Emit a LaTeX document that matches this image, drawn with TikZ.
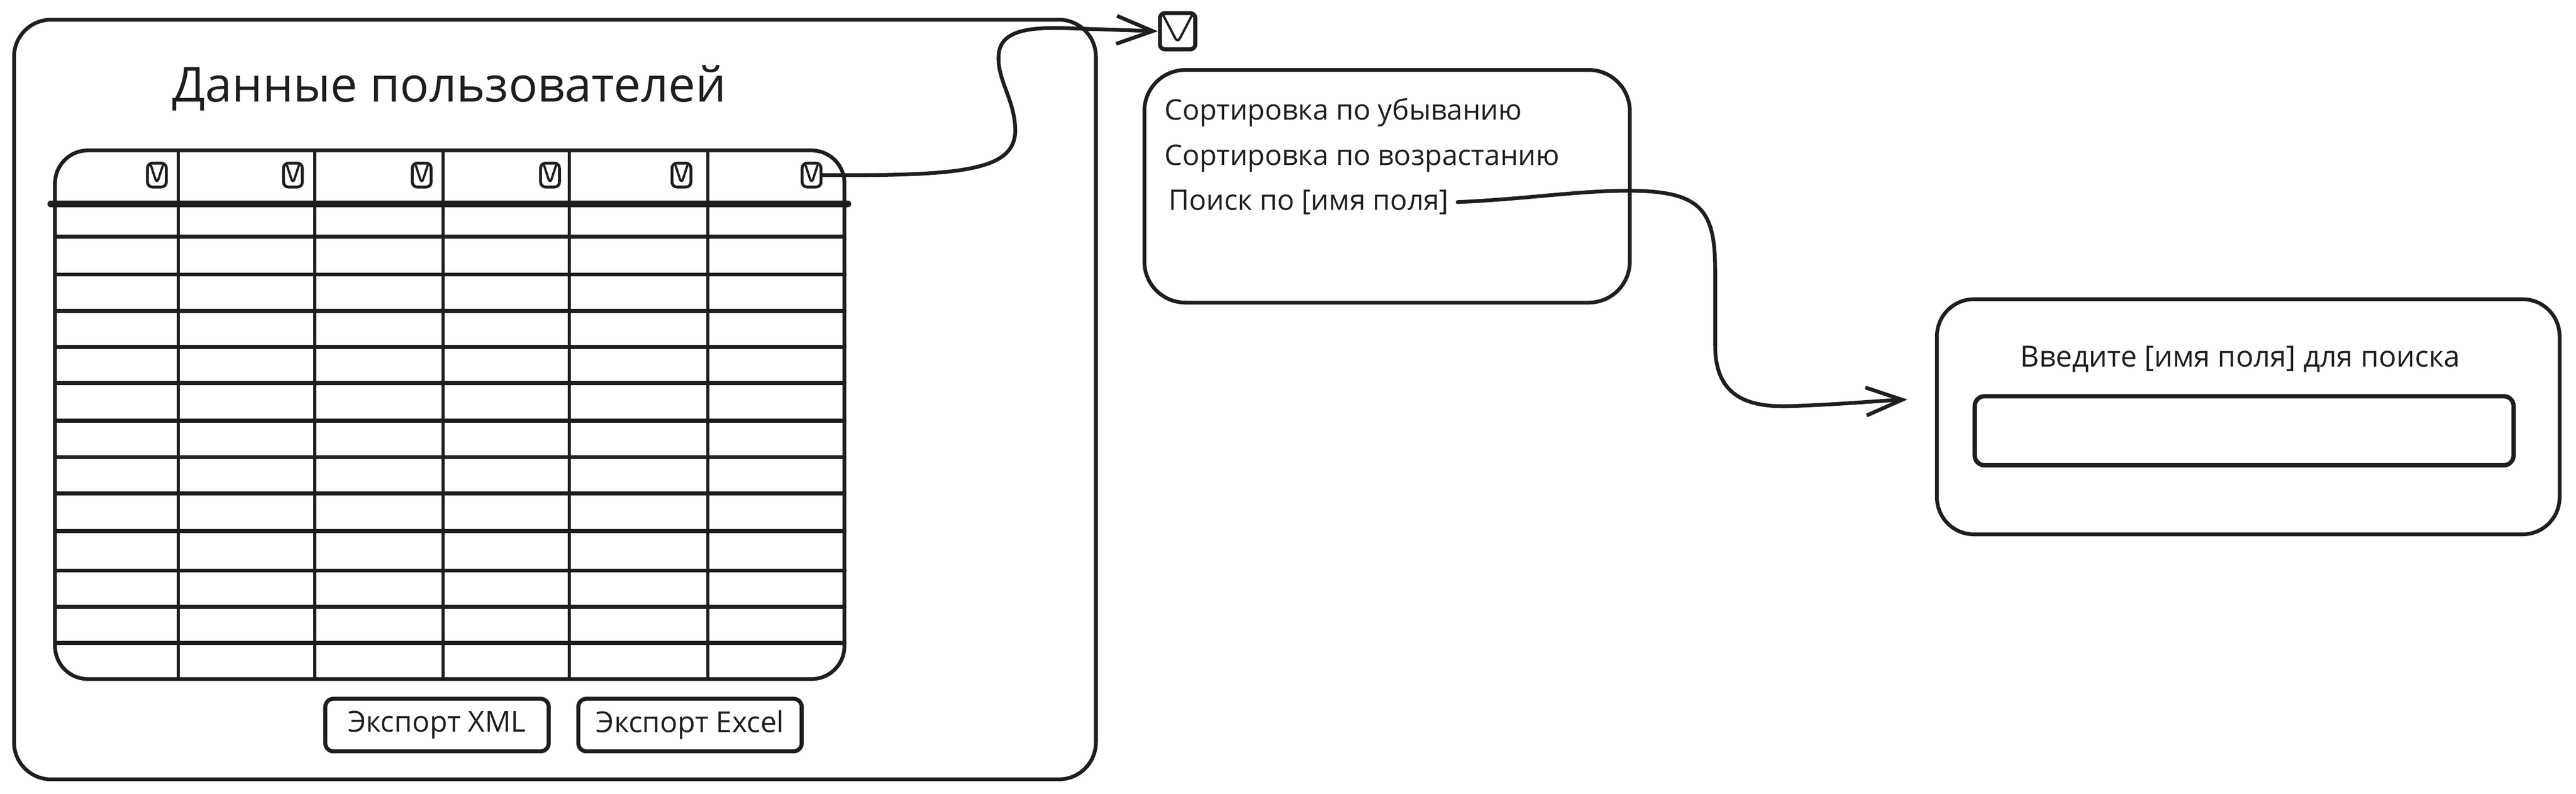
\documentclass[tikz,border=0pt]{standalone}
\usepackage{fontspec}
\setmainfont{Open Sans}
\usepackage{tikz}
\usetikzlibrary{arrows.meta}
\definecolor{ink}{HTML}{1E1E1E}

\begin{document}
\begin{tikzpicture}[x=0.2mm, y=-0.2mm, line cap=round, line join=round, color=ink,
  frame/.style={draw, line width=1.3pt, rounded corners=4.5mm, inner sep=0pt},
  btn/.style={draw, line width=1.4pt, rounded corners=1mm, inner sep=0pt,
    minimum width=27.2mm, minimum height=6.4mm, font=\fontsize{10}{12}\selectfont},
  chk/.style={draw, line width=1pt, rounded corners=0.6mm, inner sep=0pt,
    path picture={\draw[line width=0.8pt]
      ([shift={(0.45mm,-0.35mm)}]path picture bounding box.north west)
      -- ([yshift=#1]path picture bounding box.south)
      -- ([shift={(-0.45mm,-0.35mm)}]path picture bounding box.north east);}},
  chk/.default=0.4mm,
  item/.style={anchor=base west, inner sep=0pt, font=\fontsize{9.8}{12}\selectfont},
  rowline/.style={line width=1.4pt},
  colline/.style={line width=1.1pt},
  flow/.style={line width=1.3pt, -{Straight Barb[length=4.4mm, width=3.4mm, line width=1.3pt]}}]
\useasboundingbox (0,0) rectangle (1568,482.8);

\node[frame, minimum width=131.7mm, minimum height=92.4mm] (window) at (337.8,243) {};
\node[anchor=base west, inner sep=0pt, font=\fontsize{16.7}{20}\selectfont] (title) at (104.7,62) {Данные пользователей};

\node[frame, rounded corners=4mm, minimum width=96.1mm, minimum height=64.3mm] (grid) at (273.75,252.25) {};
\draw[line width=2.4pt] (31,124) -- (516,124);
\foreach \r in {144,167,189,211,233,256,278,300,323,347,369,391}
  \draw[rowline] (33.5,\r) -- (514,\r);
\foreach \c in {108.6,191.5,269.6,346.4,431}
  \draw[colline] (\c,91.5) -- (\c,413);
\foreach \x [count=\i] in {95.5,178.3,256.7,334.8,414.8,494}
  \node[chk, minimum width=2.3mm, minimum height=2.9mm] (cb\i) at (\x,106.5) {};

\node[btn] (xml) at (266,441) {Экспорт XML};
\node[btn] (excel) at (420,441) {Экспорт Excel};

\node[chk=0.8mm, line width=1.4pt, minimum width=4.3mm, minimum height=4.4mm] (pick) at (716.8,19) {};

\node[frame, rounded corners=5mm, minimum width=59.1mm, minimum height=28.3mm] (menu) at (844.3,113.3) {};
\node[item] (desc) at (708.5,72.8) {Сортировка по убыванию};
\node[item] (asc) at (708.5,100.6) {Сортировка по возрастанию};
\node[item] (search) at (711,127.7) {Поиск по [имя поля]};

\node[frame, minimum width=75.8mm, minimum height=28.6mm] (dialog) at (1368.5,253.5) {};
\node[anchor=base, inner sep=0pt, font=\fontsize{10.1}{12}\selectfont] (prompt) at (1363.6,223) {Введите [имя поля] для поиска};
\node[draw, line width=1.5pt, rounded corners=1.2mm, minimum width=65.6mm, minimum height=8.4mm] (field) at (1366,262) {};
\coordinate (dlgin) at (1161,243);

\draw[flow] (cb6.east) .. controls (585,107) and (617,104) .. (618,80)
  .. controls (618,60) and (606,48) .. (608,32)
  .. controls (610,18) and (628,17) .. (645,17) -- (pick.west);
\draw[flow] ([xshift=1mm]search.east) .. controls (930,121) and (960,116) .. (991,116)
  .. controls (1036,116) and (1044,128) .. (1044,165) -- (1044,210)
  .. controls (1044,240) and (1062,248) .. (1090,247)
  .. controls (1120,246) and (1140,244) .. (dlgin);
\end{tikzpicture}
\end{document}
